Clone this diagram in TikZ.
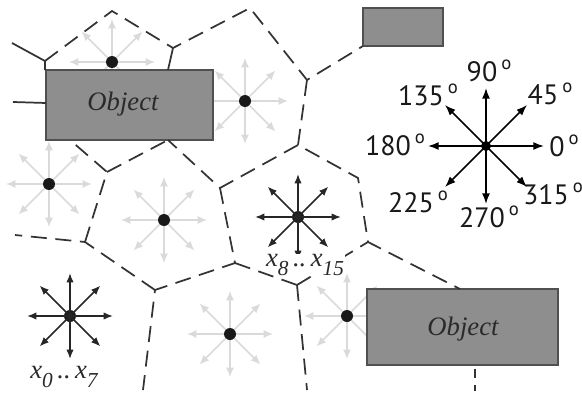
\documentclass[tikz,border=0pt]{standalone}
\usepackage{fontspec}
\setmainfont{Liberation Serif}
\newfontfamily\anglefont{PT Sans}
\usetikzlibrary{arrows.meta,calc}

\definecolor{boxgray}{HTML}{8E8E8E}
\definecolor{rimgray}{HTML}{505050}
\definecolor{edgegray}{HTML}{333333}
\definecolor{ghost}{HTML}{DADADA}
\definecolor{ink}{HTML}{2A2A2A}

% lowered index digit and raised degree ring
\newcommand\ix[1]{\raisebox{-0.32em}{\fontsize{16}{16}\selectfont #1}}
\newcommand\dg{\hspace{3pt}\raisebox{0.45em}{\fontsize{14}{14}\selectfont o}}

\begin{document}
\begin{tikzpicture}[x=0.75pt,y=-0.75pt,
  ghostarrow/.style={draw=ghost,line width=1.1pt,-{Latex[length=7pt,width=6pt]}},
  inkarrow/.style={draw=black!85,line width=1.1pt,-{Latex[length=7pt,width=5.5pt]}},
  bigarrow/.style={draw=black,line width=1.2pt,-{Latex[length=8pt,width=6pt]}},
  seed/.style={circle,fill=black!90,inner sep=0pt,minimum size=9pt},
  hub/.style={circle,fill=black,inner sep=0pt,minimum size=7.5pt},
  objbox/.style={draw=rimgray,fill=boxgray,line width=0.9pt,inner sep=0pt},
  objtext/.style={text=ink,font=\fontsize{20}{22}\selectfont\itshape},
  celledge/.style={draw=edgegray,line width=1.3pt,dash pattern=on 12pt off 6.5pt},
  shortedge/.style={draw=edgegray,line width=1.3pt,dash pattern=on 7pt off 5pt,dash phase=-2pt},
  wall/.style={draw=edgegray,line width=1.3pt},
  idx/.style={text=ink,font=\fontsize{20}{22}\selectfont\itshape,inner sep=0.5pt},
  ang/.style={text=black!90,font=\anglefont\fontsize{21}{23}\selectfont,inner sep=0pt}]
\useasboundingbox (0,0) rectangle (582,396);

% faint direction stars around the cell seeds
\foreach \n/\x/\y in {f1/112/62, f2/245/101, f3/49/184, f4/164/220, f5/230/334, f6/347/316}{
  \coordinate (\n) at (\x,\y);
  \foreach \a in {0,45,...,315}
    \draw[ghostarrow] (\n) -- ($(\n)+(\a:43)$);
}

% obstacles
\node[objbox,minimum width=125.25pt,minimum height=52.5pt] (obj1) at (129.5,105) {};
\node[objtext] (obj1t) at (123,104) {Object};
\node[objbox,minimum width=60pt,minimum height=28.5pt] (obj2) at (403,27) {};
\node[objbox,minimum width=143.25pt,minimum height=57pt] (obj3) at (462.5,327) {};
\node[objtext] (obj3t) at (463,329) {Object};

% cell vertices
\coordinate (v1) at (45,61);
\coordinate (v2) at (112,11);
\coordinate (v3) at (173,48);
\coordinate (v4) at (250,8);
\coordinate (v5) at (307,80);
\coordinate (v6) at (298,145);
\coordinate (v7) at (358,178);
\coordinate (v8) at (368,242);
\coordinate (v9) at (220,188);
\coordinate (v10) at (235,263);
\coordinate (v11) at (297,285);
\coordinate (v12) at (155,290);
\coordinate (v13) at (85,242);
\coordinate (v14) at (107,172);
% where edges meet obstacles or leave the frame
\coordinate (o1tl) at (45,70);
\coordinate (o1l) at (46,103);
\coordinate (o1t) at (168,70);
\coordinate (o1b) at (168,140);
\coordinate (o1bl) at (70,140);
\coordinate (o2bl) at (363,46);
\coordinate (o3t) at (460,289);
\coordinate (o3b) at (475,366);
\coordinate (e1) at (12,43);
\coordinate (e2) at (13,102);
\coordinate (e3) at (15,235);
\coordinate (e4) at (143,390);
\coordinate (e5) at (307,390);
\coordinate (e6) at (475,391);

% solid stubs
\draw[wall] (e1) -- (v1) -- (o1tl);
\draw[wall] (e2) -- (o1l);
\draw[wall] (v3) -- (o1t);

% dashed cell boundaries
\draw[celledge] (v1) -- (v2) -- (v3) -- (v4) -- (v5) -- (o2bl);
\draw[celledge] (v5) -- (v6) -- (v7) -- (v8) -- (o3t);
\draw[celledge] (v6) -- (v9) -- (o1b);
\draw[celledge] (v9) -- (v10) -- (v12) -- (e4);
\draw[celledge] (v11) -- (v8);
\draw[celledge] (v11) -- (e5);
\draw[celledge] (v12) -- (v13) -- (e3);
\draw[celledge] (v13) -- (v14) -- (o1bl);
\draw[celledge] (v14) -- (o1b);
\draw[shortedge] (o3b) -- (e6);

% seed dots
\foreach \n in {f1,f2,f3,f4,f5,f6}
  \node[seed] (\n d) at (\n) {};

% highlighted direction stars
\node[seed] (s0) at (70,316) {};
\node[seed] (s8) at (298,217) {};
\foreach \n in {s0,s8}
  \foreach \a in {0,45,...,315}
    \draw[inkarrow] (\n.center) -- ($(\n.center)+(\a:43)$);

\node[idx] (l0) at (64,377) {x\ix{0}\,..\,x\ix{7}};
\node[idx,fill=white] (l8) at (305,265) {x\ix{8}\,..\,x\ix{15}};
\draw[celledge] (v10) -- (v11);

% angle legend
\node[hub] (c) at (486,146) {};
\foreach \a in {0,45,...,315}
  \draw[bigarrow] (c.center) -- ($(c.center)+(-\a:58)$);
\node[ang] (a90)  at (489,71)  {90\dg};
\node[ang] (a45)  at (550,94)  {45\dg};
\node[ang] (a135) at (428,95)  {135\dg};
\node[ang] (a180) at (395,145) {180\dg};
\node[ang] (a0)   at (564,146) {0\dg};
\node[ang] (a225) at (418,202) {225\dg};
\node[ang] (a270) at (489,217) {270\dg};
\node[ang] (a315) at (553,194) {315\dg};
\end{tikzpicture}
\end{document}
